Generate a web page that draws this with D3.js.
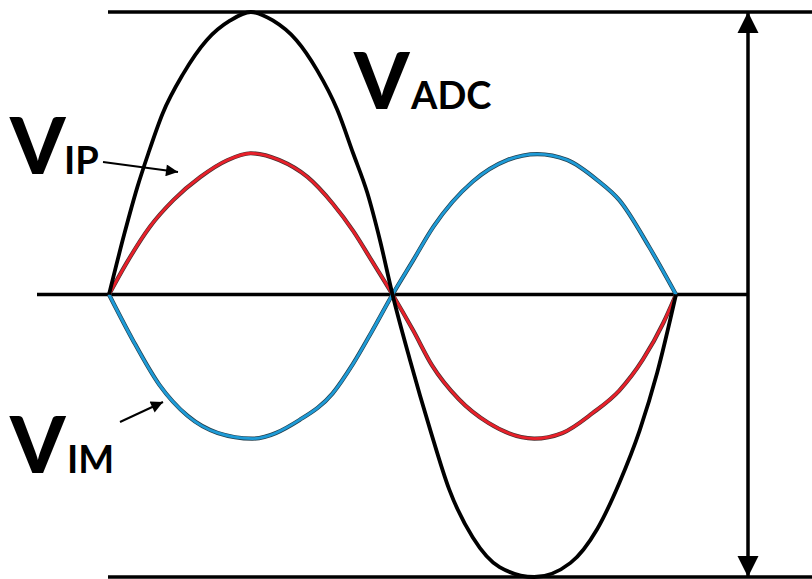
<!DOCTYPE html>
<html>
<head>
<meta charset="utf-8">
<script src="https://cdn.jsdelivr.net/npm/d3@7"></script>
<style>
  html, body { margin: 0; padding: 0; background: #fff; }
</style>
</head>
<body>
<div id="chart"></div>
<script>
// phase (deg) and normalised amplitude
const vadc = [[0,0],[10,0.22],[18,0.38],[25,0.5],[34,0.64],[47,0.78],[62,0.9],[77,0.97],[90,1],
  [104,0.97],[119,0.9],[132,0.795],[145,0.653],[155,0.5],[164,0.36],[172,0.193],[180,0],
  [191,-0.23],[204,-0.48],[216,-0.69],[231,-0.86],[248,-0.965],[270,-1],[293,-0.95],
  [310,-0.83],[324,-0.667],[337,-0.48],[348,-0.278],[360,0]]
const vip = [[0,0],[11,0.11],[26,0.24],[41,0.335],[58,0.416],[75,0.475],[90,0.5],[108,0.476],
  [126,0.416],[142,0.322],[155,0.225],[167,0.118],[180,0],
  [193,-0.126],[205,-0.25],[222,-0.37],[241,-0.455],[270,-0.51],[288,-0.49],[307,-0.42],
  [324,-0.34],[339,-0.23],[352,-0.1],[360,0]]
const vim = [[0,0],[15,-0.16],[32,-0.32],[50,-0.43],[69,-0.49],[91,-0.51],[121,-0.444],
  [142,-0.35],[155,-0.245],[167,-0.13],[180,0],
  [193,0.12],[206,0.24],[231,0.4],[253,0.476],[272,0.497],[291,0.476],[310,0.405],
  [324,0.334],[343,0.168],[360,0]]
const labelMain = ["V", "V", "V"]
const labelSub = ["ADC", "IP", "IM"]

const width = 812
const height = 579

const svg = d3.select("#chart")
  .append("svg")
  .attr("width", width)
  .attr("height", height)
  .attr("viewBox", [0, 0, width, height])

svg.append("rect").attr("width", width).attr("height", height).attr("fill", "#fff")

const defs = svg.append("defs")
defs.append("marker")
  .attr("id", "head")
  .attr("viewBox", "0 0 10 10")
  .attr("refX", 10).attr("refY", 5)
  .attr("markerWidth", 14).attr("markerHeight", 12)
  .attr("markerUnits", "userSpaceOnUse")
  .attr("orient", "auto")
  .append("path").attr("d", "M0,0 L10,5 L0,10 Z").attr("fill", "#000")
defs.append("marker")
  .attr("id", "bighead")
  .attr("viewBox", "0 0 10 10")
  .attr("refX", 10).attr("refY", 5)
  .attr("markerWidth", 21).attr("markerHeight", 22)
  .attr("markerUnits", "userSpaceOnUse")
  .attr("orient", "auto-start-reverse")
  .append("path").attr("d", "M0,0 L10,5 L0,10 Z").attr("fill", "#000")

const x = d3.scaleLinear().domain([0, 360]).range([109, 676])
const y = d3.scaleLinear().domain([-1, 1]).range([577, 12])

const layer_lines = svg.append("g")
const layer_curves = svg.append("g")
const layer_text = svg.append("g")

// reference lines
layer_lines.append("line")
  .attr("x1", x(0) - 1).attr("x2", width)
  .attr("y1", y(1)).attr("y2", y(1))
  .attr("stroke", "#000").attr("stroke-width", 3.5)
layer_lines.append("line")
  .attr("x1", x(0) - 1).attr("x2", width)
  .attr("y1", y(-1)).attr("y2", y(-1))
  .attr("stroke", "#000").attr("stroke-width", 3.5)
layer_lines.append("line")
  .attr("x1", 37).attr("x2", 748)
  .attr("y1", y(0)).attr("y2", y(0))
  .attr("stroke", "#000").attr("stroke-width", 3.5)
layer_lines.append("line")
  .attr("x1", 748).attr("x2", 748)
  .attr("y1", y(1)).attr("y2", y(-1))
  .attr("stroke", "#000").attr("stroke-width", 3.5)
  .attr("marker-start", "url(#bighead)")
  .attr("marker-end", "url(#bighead)")

const line = d3.line()
  .x(d => x(d[0]))
  .y(d => y(d[1]))
  .curve(d3.curveMonotoneX)

// red and blue have a thin dark edge
layer_curves.append("path").datum(vip).attr("d", line)
  .attr("fill", "none").attr("stroke", "#4a3030").attr("stroke-width", 4.2)
layer_curves.append("path").datum(vip).attr("d", line)
  .attr("fill", "none").attr("stroke", "#e8202a").attr("stroke-width", 2.8)
layer_curves.append("path").datum(vim).attr("d", line)
  .attr("fill", "none").attr("stroke", "#24404e").attr("stroke-width", 4.2)
layer_curves.append("path").datum(vim).attr("d", line)
  .attr("fill", "none").attr("stroke", "#1e9bd7").attr("stroke-width", 2.8)
layer_curves.append("path").datum(vadc).attr("d", line)
  .attr("fill", "none").attr("stroke", "#000").attr("stroke-width", 3.8)
  .attr("stroke-linejoin", "round")

// labels
const labelPos = [
  {x: 354, y: 109, sx: 411},
  {x: 10, y: 174, sx: 64},
  {x: 10, y: 473, sx: 67}
]
labelMain.forEach((m, i) => {
  const g = layer_text.append("g")
  g.append("text")
    .attr("x", labelPos[i].x).attr("y", labelPos[i].y)
    .style("font-family", "Lato, 'Open Sans', sans-serif")
    .style("font-weight", "900")
    .style("font-size", "79px")
    .text(m)
  g.append("text")
    .attr("x", labelPos[i].sx).attr("y", labelPos[i].y)
    .style("font-family", "Lato, 'Open Sans', sans-serif")
    .style("font-weight", "bold")
    .style("font-size", "38px")
    .text(labelSub[i])
})

// pointer arrows
layer_text.append("line")
  .attr("x1", 103).attr("y1", 162).attr("x2", 178).attr("y2", 172)
  .attr("stroke", "#000").attr("stroke-width", 2)
  .attr("marker-end", "url(#head)")
layer_text.append("line")
  .attr("x1", 120).attr("y1", 422).attr("x2", 163).attr("y2", 402)
  .attr("stroke", "#000").attr("stroke-width", 2)
  .attr("marker-end", "url(#head)")
</script>
</body>
</html>
